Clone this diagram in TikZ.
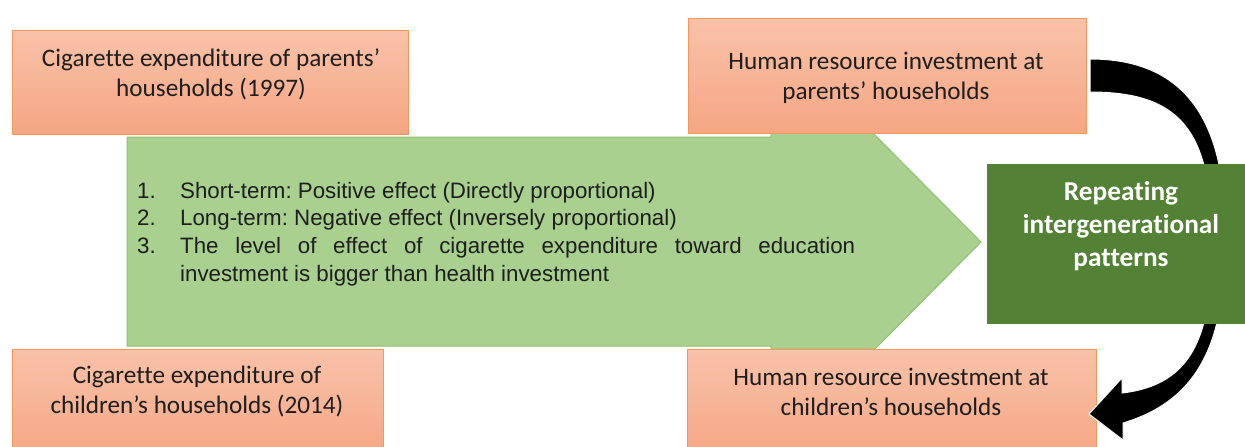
\documentclass[tikz,border=0pt]{standalone}
\usepackage{fontspec}
\setmainfont{Carlito}[Ligatures={NoCommon}]
\newfontfamily\arialf{Liberation Sans}
\frenchspacing
\definecolor{orangetop}{HTML}{F9C2A9}
\definecolor{orangebot}{HTML}{F5A683}
\definecolor{orangeline}{HTML}{F4975A}
\definecolor{greenfill}{HTML}{A9D08E}
\definecolor{greenline}{HTML}{8EC172}
\definecolor{darkgreen}{HTML}{538135}
\definecolor{txtdark}{HTML}{1E1E1E}
\tikzset{
  orangebox/.style={draw=orangeline, line width=1pt, top color=orangetop, bottom color=orangebot, rectangle, inner sep=0pt},
  boxtext/.style={align=center, inner sep=0pt, text=txtdark, font=\fontsize{25.2}{30}\selectfont},
  greenbox/.style={fill=darkgreen, draw=none, rectangle, inner sep=0pt},
  greentext/.style={align=center, inner sep=0pt, text=white, font=\bfseries\fontsize{27.3}{33}\selectfont},
  listtext/.style={anchor=north west, inner sep=0pt, text width=718pt, align=justify, text=txtdark, font=\arialf\fontsize{22.3}{27.6}\selectfont},
}
\begin{document}
\begin{tikzpicture}[x=1pt,y=-1pt]
\useasboundingbox (0,0) rectangle (1245,447);
% big green arrow
\coordinate (ga1) at (127,137);
\coordinate (ga2) at (771,137);
\coordinate (ga3) at (771,133);
\coordinate (ga4) at (873,133);
\coordinate (gtip) at (981,242);
\coordinate (ga5) at (875,349);
\coordinate (ga6) at (771,349);
\coordinate (ga7) at (771,346);
\coordinate (ga8) at (127,346);
\fill[greenfill] (ga1) -- (ga2) -- (ga3) -- (ga4) -- (gtip) -- (ga5) -- (ga6) -- (ga7) -- (ga8) -- cycle;
\draw[greenline, line width=1pt, line join=miter] (ga1) -- (ga2) -- (ga3) -- (ga4) -- (gtip) -- (ga5) -- (ga6) -- (ga7) -- (ga8) -- cycle;
\node[listtext] (list) at (137,182) {\frenchspacing\hyphenpenalty=10000\exhyphenpenalty=10000\emergencystretch=200pt%
\noindent\hangindent=43pt\hangafter=1\makebox[43pt][l]{1.}Short-term: Positive effect (Directly proportional)\par
\noindent\hangindent=43pt\hangafter=1\makebox[43pt][l]{2.}Long-term: Negative effect (Inversely proportional)\par
\noindent\hangindent=43pt\hangafter=1\makebox[43pt][l]{3.}The level of effect of cigarette expenditure toward education investment is bigger than health investment\par};
% orange boxes
\node[orangebox, minimum width=396pt, minimum height=104pt] (b1) at (210,82) {};
\node[boxtext] (t1) at (211,74) {Cigarette expenditure of parents’\\households (1997)};
\node[orangebox, minimum width=398pt, minimum height=115pt] (b2) at (887,75.5) {};
\node[boxtext] (t2) at (886,78) {Human resource investment at\\parents’ households};
\node[orangebox, minimum width=371pt, minimum height=110pt] (b3) at (197.5,404) {};
\node[boxtext] (t3) at (197,391) {Cigarette expenditure of\\children’s households (2014)};
\node[orangebox, minimum width=409pt, minimum height=110pt] (b4) at (891.5,404) {};
\node[boxtext] (t4) at (891,392) {Human resource investment at\\children’s households};
% black curved arrow
\coordinate (ka1) at (1090,59);
\coordinate (kmid) at (1225,243);
\coordinate (ka2) at (1123,423);
\coordinate (kh1) at (1123,440);
\coordinate (khtip) at (1089,414);
\coordinate (kh2) at (1122,378);
\coordinate (ka3) at (1122,393);
\coordinate (kin) at (1212,243);
\coordinate (ka4) at (1090,92);
\draw[white, line width=1pt, fill=black, line join=miter]
  (ka1) .. controls (1185,59) and (1228,120) .. (kmid)
  .. controls (1225,340) and (1200,400) .. (ka2)
  -- (kh1) -- (khtip) -- (kh2) -- (ka3)
  .. controls (1190,385) and (1212,340) .. (kin)
  .. controls (1212,130) and (1180,92) .. (ka4) -- cycle;
% dark green box
\node[greenbox, minimum width=270pt, minimum height=160pt] (g) at (1122,244) {};
\node[greentext] (gt) at (1121,226) {Repeating\\intergenerational\\patterns};
\end{tikzpicture}
\end{document}
